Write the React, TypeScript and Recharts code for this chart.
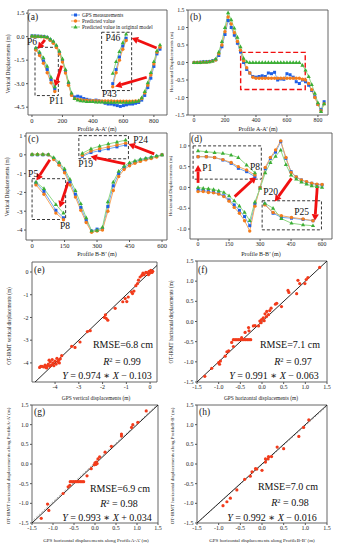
import React from "react";
import {
  ComposedChart,
  Line,
  ScatterChart,
  Scatter,
  XAxis,
  YAxis,
  ReferenceArea,
  ReferenceLine,
  ReferenceDot,
  Customized
} from "recharts";

const FONT = "'Liberation Serif', 'DejaVu Serif', serif";
const FRAME = "#555";

// Profile A-A' stations (m)
const stationsA = [0, 20, 40, 60, 80, 100, 120, 140, 160, 180, 200, 220, 240, 260, 280, 300, 320, 340, 360, 380, 400, 420, 440, 460, 480, 500, 520, 540, 560, 580, 600, 620, 640, 660, 680, 700, 720, 740, 760, 780, 800, 820, 840];
const vertGpsA = [0.05, 0.04, 0.03, 0.02, 0.0, -0.05, -0.2, -0.36, -0.62, -1.02, -1.52, -2.2, -3.0, -3.7, -3.85, -3.8, -3.85, -3.95, -4.0, -4.05, -4.1, -4.05, -4.1, -4.15, -4.25, -4.3, -4.3, -4.35, -4.4, -4.45, -4.4, -4.35, -4.3, -4.3, -4.25, -4.2, -4.05, -3.75, -3.25, -2.65, -1.9, -1.1, -0.8];
const vertPredA = [0.02, 0.01, 0.0, -0.01, -0.03, -0.08, -0.24, -0.42, -0.7, -1.1, -1.62, -2.32, -3.1, -3.75, -3.95, -4.0, -4.02, -4.05, -4.05, -4.08, -4.08, -4.08, -4.1, -4.1, -4.1, -4.1, -4.1, -4.12, -4.12, -4.12, -4.12, -4.12, -4.12, -4.12, -4.1, -4.1, -3.95, -3.6, -3.1, -2.45, -1.75, -1.0, -0.68];
const vertOrigA = [0.04, 0.03, 0.02, 0.01, 0.0, -0.03, -0.15, -0.3, -0.55, -0.92, -1.42, -2.1, -2.9, -3.6, -3.95, -4.05, -4.1, -4.12, -4.15, -4.15, -4.15, -4.18, -4.18, -4.18, -4.2, -4.2, -4.2, -4.2, -4.2, -4.2, -4.2, -4.2, -4.2, -4.18, -4.15, -4.1, -3.9, -3.5, -2.95, -2.3, -1.6, -0.9, -0.53];
const horGpsA = [0.0, 0.0, 0.01, 0.02, 0.02, 0.03, 0.05, 0.08, 0.2, 0.45, 0.8, 1.2, 1.0, 0.78, 0.55, 0.3, 0.0, -0.2, -0.3, -0.4, -0.42, -0.4, -0.38, -0.4, -0.3, -0.32, -0.28, -0.5, -0.47, -0.48, -0.32, -0.35, -0.42, -0.55, -0.6, -0.5, -0.55, -0.65, -0.8, -0.98, -1.2, -1.35, -1.12];
const horPredA = [0.0, 0.0, 0.0, 0.01, 0.01, 0.02, 0.04, 0.07, 0.25, 0.5, 0.88, 1.3, 1.1, 0.85, 0.6, 0.35, 0.05, -0.15, -0.3, -0.42, -0.45, -0.45, -0.45, -0.45, -0.45, -0.45, -0.45, -0.45, -0.45, -0.45, -0.45, -0.45, -0.45, -0.45, -0.45, -0.48, -0.5, -0.6, -0.78, -1.0, -1.2, -1.38, -1.18];
const horOrigA = [0.0, 0.0, 0.0, 0.01, 0.01, 0.02, 0.04, 0.1, 0.3, 0.6, 1.0, 1.42, 1.22, 0.98, 0.72, 0.45, 0.12, 0.02, 0.0, 0.0, 0.0, 0.0, 0.0, 0.0, 0.0, 0.0, 0.0, 0.0, 0.0, 0.0, 0.0, 0.0, 0.0, 0.0, 0.0, -0.08, -0.22, -0.4, -0.63, -0.88, -1.15, -1.4, -1.18];

// Profile B-B' stations (m)
const stationsB = [0, 25, 50, 75, 100, 125, 150, 175, 200, 225, 250, 275, 300, 325, 350, 375, 400, 425, 450, 475, 500, 525, 550, 575, 600];
const vertGpsB = [0.0, 0.0, 0.0, 0.0, -0.2, -0.48, -0.85, -1.45, -2.1, -2.8, -3.5, -4.05, -3.95, -3.95, -2.75, -1.65, -1.0, -0.68, -0.5, -0.38, -0.28, -0.22, -0.15, -0.08, 0.0];
const vertPredB = [0.02, 0.02, 0.02, 0.0, -0.25, -0.55, -0.95, -1.6, -2.25, -2.95, -3.6, -4.12, -4.05, -4.0, -3.0, -1.9, -1.15, -0.78, -0.58, -0.45, -0.35, -0.27, -0.2, -0.12, 0.0];
const vertOrigB = [0.03, 0.03, 0.03, 0.02, -0.15, -0.4, -0.75, -1.3, -1.9, -2.6, -3.35, -4.05, -4.02, -3.85, -2.5, -1.45, -0.88, -0.6, -0.42, -0.32, -0.24, -0.18, -0.12, -0.06, 0.0];
const horGpsB = [-0.05, -0.07, -0.1, -0.12, -0.15, -0.2, -0.3, -0.42, -0.55, -0.7, -0.92, -0.4, 0.0, 0.45, 0.7, 0.85, 1.1, 0.7, 0.38, 0.25, 0.18, 0.13, 0.1, 0.07, 0.06];
const horPredB = [-0.1, -0.1, -0.12, -0.13, -0.16, -0.22, -0.33, -0.48, -0.62, -0.8, -1.05, -0.45, 0.0, 0.48, 0.72, 0.9, 1.12, 0.72, 0.36, 0.25, 0.18, 0.14, 0.1, 0.08, 0.07];
const horOrigB = [0.0, -0.02, -0.03, -0.05, -0.08, -0.12, -0.2, -0.32, -0.45, -0.6, -0.8, -0.35, -0.02, 0.35, 0.6, 0.75, 0.9, 0.55, 0.3, 0.2, 0.13, 0.08, 0.04, 0.02, 0.0];

// zoomed insets (stations as plotted inside the dashed boxes)
const insetA1x = [25, 50, 75, 100, 125, 150];
const insetA1 = { gps: [-0.8, -1.1, -1.55, -2.1, -2.75, -3.35], pred: [-0.85, -1.2, -1.7, -2.3, -2.95, -3.5], orig: [-0.72, -0.98, -1.35, -1.9, -2.6, -3.2] };
const insetA2x = [530, 552, 574, 596, 618];
const insetA2 = { gps: [-3.0, -2.1, -1.3, -0.6, -0.1], pred: [-3.2, -2.3, -1.5, -0.8, -0.25], orig: [-2.35, -1.6, -0.95, -0.4, 0.17] };
const insetC1x = [18, 55, 110, 145];
const insetC1 = { gps: [-1.5, -1.95, -2.95, -3.35], pred: [-1.6, -2.1, -3.1, -3.45], orig: [-1.45, -1.8, -2.65, -3.1] };
const insetC2x = [232, 272, 312, 352, 392, 432];
const insetC2 = { gps: [-0.08, 0.12, 0.22, 0.32, 0.42, 0.52], pred: [-0.02, 0.2, 0.32, 0.42, 0.52, 0.62], orig: [0.08, 0.32, 0.46, 0.58, 0.68, 0.78] };
const insetD1x = [0, 40, 80, 120, 160, 195, 235, 275];
const insetD1 = { gps: [0.74, 0.74, 0.72, 0.66, 0.58, 0.46, 0.38, 0.26], pred: [0.74, 0.74, 0.72, 0.67, 0.6, 0.5, 0.42, 0.3], orig: [0.88, 0.86, 0.84, 0.82, 0.78, 0.72, 0.54, 0.35] };
const insetD2x = [323, 363, 403, 452, 508, 556];
const insetD2 = { gps: [-0.4, -0.62, -0.72, -0.74, -0.77, -0.8], pred: [-0.42, -0.6, -0.68, -0.72, -0.76, -0.8], orig: [-0.38, -0.5, -0.75, -0.86, -0.9, -0.92] };

// GPS vs OT-IRMT pairs
const scatterE: [number, number][] = [
  [-4.65, -4.2], [-4.6, -4.15], [-4.55, -4.15], [-4.48, -4.18], [-4.42, -4.1], [-4.38, -4.2], [-4.32, -4.12], [-4.28, -4.05], [-4.22, -4.15], [-4.2, -3.95], [-4.15, -4.08], [-4.12, -3.85], [-4.08, -4.0], [-4.05, -4.12], [-4.0, -3.92], [-3.95, -4.05], [-3.92, -3.8], [-3.88, -3.95], [-3.85, -3.88], [-3.82, -4.0], [-3.78, -3.82], [-3.72, -3.68], [-4.25, -3.88], [-4.35, -4.22],
  [-3.3, -3.27], [-3.16, -3.32], [-2.95, -3.08], [-2.64, -2.62], [-2.52, -2.58], [-1.88, -1.88], [-1.85, -2.04], [-1.78, -2.12], [-1.92, -2.0], [-1.47, -1.6], [-1.15, -1.31], [-1.05, -1.17], [-0.92, -1.1], [-0.98, -1.3], [-0.74, -0.95], [-0.68, -0.84], [-0.78, -0.88],
  [-0.6, -0.6], [-0.53, -0.51], [-0.49, -0.36], [-0.42, -0.22], [-0.35, -0.15], [-0.3, -0.05], [-0.25, -0.12], [-0.18, -0.02], [-0.14, -0.03], [-0.07, -0.12], [-0.04, 0.03], [0.03, 0.07], [0.08, -0.02], [0.11, 0.03], [-0.02, -0.05], [0.05, 0.0]
];
const scatterF: [number, number][] = [
  [1.33, 1.34], [1.06, 1.09], [1.02, 1.04], [0.83, 1.02], [0.87, 0.94], [0.99, 0.94], [0.8, 0.69], [0.6, 0.77], [0.62, 0.72], [0.45, 0.37], [0.34, 0.45], [0.31, 0.43], [0.21, 0.33], [0.18, 0.27], [0.11, 0.25], [0.07, 0.19], [0.15, 0.17], [0.03, 0.09], [-0.01, 0.05], [-0.05, 0.01], [-0.02, -0.03], [0.05, 0.02], [0.1, 0.12], [-0.08, -0.11], [-0.16, -0.1], [-0.2, -0.11], [-0.31, -0.15], [-0.3, -0.23], [-0.39, -0.27],
  [-0.66, -0.45], [-0.62, -0.45], [-0.58, -0.45], [-0.54, -0.45], [-0.5, -0.45], [-0.46, -0.45], [-0.42, -0.45], [-0.38, -0.45], [-0.34, -0.45], [-0.3, -0.45], [-0.26, -0.45],
  [-0.47, -0.4], [-0.7, -0.52], [-0.66, -0.62], [-0.77, -0.73], [-0.81, -0.75], [-0.85, -0.86], [-0.96, -0.98], [-1.0, -1.02], [-0.98, -1.06], [-1.16, -1.16], [-1.32, -1.36]
];
const scatterG: [number, number][] = [
  [1.22, 1.35], [1.02, 1.06], [0.9, 1.0], [0.87, 0.93], [0.63, 0.76], [0.63, 0.71], [0.39, 0.45], [0.24, 0.3], [0.11, 0.18], [0.07, 0.13], [0.03, 0.05], [0.0, 0.03], [0.02, -0.01], [-0.02, -0.02], [0.05, 0.01], [-0.09, -0.12], [-0.19, -0.3],
  [-0.59, -0.45], [-0.55, -0.45], [-0.51, -0.45], [-0.47, -0.45], [-0.43, -0.45], [-0.39, -0.45], [-0.35, -0.45], [-0.31, -0.45], [-0.27, -0.45],
  [-0.6, -0.54], [-0.64, -0.58], [-0.76, -0.75], [-1.13, -1.02], [-1.1, -1.18], [-1.28, -1.38]
];
const scatterH: [number, number][] = [
  [1.08, 1.12], [0.96, 0.93], [0.85, 0.7], [0.5, 0.39], [0.35, 0.43], [0.22, 0.19], [0.15, 0.19], [0.14, 0.13], [0.08, 0.13], [0.08, 0.05], [0.0, -0.16], [-0.12, -0.13], [-0.15, -0.12], [-0.23, -0.2], [-0.27, -0.31], [-0.4, -0.39], [-0.58, -0.66], [-0.73, -0.87], [-0.81, -0.96], [-0.9, -1.06]
];

const rmseCm = [6.8, 7.1, 6.9, 7.0];
const rSquared = [0.99, 0.97, 0.98, 0.98];
const fitSlope = [0.974, 0.991, 0.993, 0.992];
const fitIntercept = [-0.103, -0.063, 0.034, -0.016];

const SERIES = [
  { key: "gps", name: "GPS measurements", line: "#6ea8f2", mark: "#1e5fe6" },
  { key: "pred", name: "Predicted value", line: "#f6a862", mark: "#f47c1c" },
  { key: "orig", name: "Predicted value in original model", line: "#8fd884", mark: "#3cae36" }
];

type Trio = { gps: number[]; pred: number[]; orig: number[] };

const rows = (xs: number[], ys: number[]) => xs.map((x, i) => ({ x, y: ys[i] }));

function markerShape(kind: string, color: string, cx: number, cy: number, key?: any) {
  if (kind === "gps") return <rect key={key} x={cx - 1.5} y={cy - 1.5} width={3} height={3} fill={color} />;
  if (kind === "pred") return <circle key={key} cx={cx} cy={cy} r={1.7} fill={color} />;
  return <polygon key={key} points={`${cx},${cy - 2.3} ${cx - 2.1},${cy + 1.4} ${cx + 2.1},${cy + 1.4}`} fill={color} />;
}

const dotFor = (kind: string, color: string) => (p: any) => {
  if (p.cx == null || p.cy == null) return <g key={p.index} />;
  return markerShape(kind, color, p.cx, p.cy, p.index);
};

const Arrow = (p: any) => {
  const { x1, y1, x2, y2 } = p;
  const dx = x2 - x1;
  const dy = y2 - y1;
  const len = Math.hypot(dx, dy) || 1;
  const ux = dx / len;
  const uy = dy / len;
  const hl = 6.5;
  const hw = 3.6;
  const bx = x2 - ux * hl;
  const by = y2 - uy * hl;
  return (
    <g>
      <line x1={x1} y1={y1} x2={bx} y2={by} stroke="#f01010" strokeWidth={2.8} />
      <polygon points={`${x2},${y2} ${bx - uy * hw},${by + ux * hw} ${bx + uy * hw},${by - ux * hw}`} fill="#f01010" />
    </g>
  );
};

const tickStyle = (size: number) => ({ fontSize: size, fill: "#222", fontFamily: FONT });

type Box = { x1: number; x2: number; y1: number; y2: number; red?: boolean };
type Tag = { x: number; y: number; text: string };

function ProfilePanel(p: {
  left: number; top: number; width: number; height: number; mt: number; mr: number;
  yw: number; xh: number; fs: number; digits: number;
  xDomain: [number, number]; yDomain: [number, number]; xTicks: number[]; yTicks: number[];
  xs: number[]; main: Trio; insets: { xs: number[]; t: Trio }[];
  boxes: Box[]; arrows: number[][]; tags: Tag[];
}) {
  const sets = [{ xs: p.xs, t: p.main }, ...p.insets];
  return (
    <div style={{ position: "absolute", left: p.left, top: p.top }}>
      <ComposedChart width={p.width} height={p.height} margin={{ top: p.mt, right: p.mr, bottom: 0, left: 0 }}>
        <XAxis type="number" dataKey="x" domain={p.xDomain} ticks={p.xTicks} interval={0} allowDataOverflow height={p.xh}
          tick={tickStyle(p.fs)} tickSize={2} tickMargin={1} axisLine={false} tickLine={{ stroke: FRAME }} />
        <YAxis type="number" dataKey="y" domain={p.yDomain} ticks={p.yTicks} interval={0} allowDataOverflow width={p.yw}
          tick={tickStyle(p.fs)} tickSize={2} tickMargin={1.5} axisLine={false} tickLine={{ stroke: FRAME }}
          tickFormatter={(v: number) => v.toFixed(p.digits)} />
        {p.boxes.map((b, i) => (
          <ReferenceArea key={"box" + i} x1={b.x1} x2={b.x2} y1={b.y1} y2={b.y2} ifOverflow="visible" fill="none"
            stroke={b.red ? "#f01010" : "#222"} strokeWidth={b.red ? 1.4 : 0.9} strokeDasharray={b.red ? "5 2.5" : "3 2"} />
        ))}
        {sets.map((s, si) =>
          SERIES.map((c) => (
            <Line key={si + c.key} data={rows(s.xs, (s.t as any)[c.key])} dataKey="y" type="linear" stroke={c.line}
              strokeWidth={1} dot={dotFor(c.key, c.mark)} activeDot={false} isAnimationActive={false} legendType="none" />
          ))
        )}
        {p.arrows.map((a, i) => (
          <ReferenceLine key={"ar" + i} segment={[{ x: a[0], y: a[1] }, { x: a[2], y: a[3] }]} ifOverflow="visible" shape={Arrow} />
        ))}
        {p.tags.map((t, i) => (
          <ReferenceDot key={"tg" + i} x={t.x} y={t.y} r={0} fill="none" stroke="none" ifOverflow="visible"
            label={{ value: t.text, position: "center", fontSize: 9.5, fill: "#111", fontFamily: FONT }} />
        ))}
        <ReferenceArea x1={p.xDomain[0]} x2={p.xDomain[1]} y1={p.yDomain[0]} y2={p.yDomain[1]} fill="none" stroke={FRAME} strokeWidth={0.9} />
      </ComposedChart>
    </div>
  );
}

function ScatterPanel(p: {
  left: number; top: number; width: number; height: number; mt: number; mr: number; yw: number; xh: number;
  xDomain: [number, number]; yDomain: [number, number]; xTicks: number[]; yTicks: number[]; digits: number;
  pts: [number, number][]; fit: number; dashedFit: boolean;
}) {
  const lo = Math.min(p.xDomain[0], p.yDomain[0]) - 1;
  const hi = Math.max(p.xDomain[1], p.yDomain[1]) + 1;
  const a = fitSlope[p.fit];
  const b = fitIntercept[p.fit];
  return (
    <div style={{ position: "absolute", left: p.left, top: p.top }}>
      <ScatterChart width={p.width} height={p.height} margin={{ top: p.mt, right: p.mr, bottom: 0, left: 0 }}>
        <XAxis type="number" dataKey="x" domain={p.xDomain} ticks={p.xTicks} interval={0} allowDataOverflow height={p.xh}
          tick={tickStyle(6)} tickSize={2} tickMargin={1} axisLine={false} tickLine={{ stroke: FRAME }}
          tickFormatter={(v: number) => v.toFixed(p.digits)} />
        <YAxis type="number" dataKey="y" domain={p.yDomain} ticks={p.yTicks} interval={0} allowDataOverflow width={p.yw}
          tick={tickStyle(6)} tickSize={2} tickMargin={1.5} axisLine={false} tickLine={{ stroke: FRAME }}
          tickFormatter={(v: number) => v.toFixed(p.digits)} />
        {p.dashedFit && (
          <ReferenceLine segment={[{ x: lo, y: a * lo + b }, { x: hi, y: a * hi + b }]} ifOverflow="hidden"
            stroke="#9a9a9a" strokeWidth={0.8} strokeDasharray="2 1.5" />
        )}
        <ReferenceLine segment={[{ x: lo, y: lo }, { x: hi, y: hi }]} ifOverflow="hidden" stroke="#111" strokeWidth={0.9} />
        <Scatter data={p.pts.map(([x, y]) => ({ x, y }))} isAnimationActive={false}
          shape={(s: any) => <circle cx={s.cx} cy={s.cy} r={1.6} fill="#f23b1b" />} />
        <ReferenceArea x1={p.xDomain[0]} x2={p.xDomain[1]} y1={p.yDomain[0]} y2={p.yDomain[1]} fill="none" stroke={FRAME} strokeWidth={0.9} />
      </ScatterChart>
    </div>
  );
}

type Note = { t: string; x: number; y: number; s: number; rot?: boolean; anchor?: string };

const notes: Note[] = [
  { t: "(a)", x: 27.5, y: 19.5, s: 9.5, anchor: "start" },
  { t: "(b)", x: 190, y: 19.5, s: 9.5, anchor: "start" },
  { t: "(c)", x: 28, y: 141.5, s: 9.5, anchor: "start" },
  { t: "(d)", x: 191, y: 141.5, s: 9.5, anchor: "start" },
  { t: "(e)", x: 34, y: 272.5, s: 9.5, anchor: "start" },
  { t: "(f)", x: 198, y: 272.5, s: 9.5, anchor: "start" },
  { t: "(g)", x: 34, y: 415, s: 9.5, anchor: "start" },
  { t: "(h)", x: 199, y: 415, s: 9.5, anchor: "start" },
  { t: "Profile A-A\u2019 (m)", x: 97, y: 130.5, s: 6 },
  { t: "Profile A-A\u2019 (m)", x: 258, y: 130.5, s: 6 },
  { t: "Profile B-B\u2019 (m)", x: 97, y: 255.5, s: 6 },
  { t: "Profile B-B\u2019 (m)", x: 261, y: 255.5, s: 6 },
  { t: "GPS vertical displacements (m)", x: 96, y: 399.5, s: 5.4 },
  { t: "GPS horizontal displacements (m)", x: 261, y: 399.5, s: 5.4 },
  { t: "GPS horizontal displacements along ProfileA-A\u2019 (m)", x: 96, y: 542, s: 5 },
  { t: "GPS horizontal displacements along ProfileB-B\u2019 (m)", x: 262, y: 542, s: 5 },
  { t: "Vertical Displacements (m)", x: 10, y: 64, s: 5.4, rot: true },
  { t: "Horizontal Displacements (m)", x: 172.5, y: 62, s: 5, rot: true },
  { t: "Vertical Displacements (m)", x: 9, y: 187, s: 5.4, rot: true },
  { t: "Horizontal Displacements (m)", x: 172, y: 186, s: 5, rot: true },
  { t: "OT-IRMT vertical displacements (m)", x: 11, y: 326, s: 5.2, rot: true },
  { t: "OT-IRMT horizontal displacements (m)", x: 173, y: 322, s: 5.2, rot: true },
  { t: "OT-IRMT horizontal displacements along ProfileA-A\u2019 (m)", x: 10, y: 466, s: 5, rot: true },
  { t: "OT-IRMT horizontal displacements along ProfileB-B\u2019 (m)", x: 174, y: 466, s: 5, rot: true }
];

const statPos = [
  { rx: 123, ry: 348, qx: 122, qy: 365, ex: 107, ey: 378.5 },
  { rx: 290, ry: 348, qx: 293, qy: 365, ex: 274, ey: 378.5 },
  { rx: 120, ry: 491.5, qx: 119, qy: 507, ex: 107, ey: 521 },
  { rx: 288, ry: 490, qx: 290, qy: 506, ex: 272, ey: 521 }
];

function Overlay() {
  return (
    <svg width={337} height={550} style={{ position: "absolute", left: 0, top: 0, pointerEvents: "none" }} fontFamily={FONT}>
      {notes.map((n, i) => (
        <text key={i} x={n.x} y={n.y} fontSize={n.s} fill="#222" textAnchor={n.anchor || "middle"}
          transform={n.rot ? `rotate(-90 ${n.x} ${n.y})` : undefined}>{n.t}</text>
      ))}
      {SERIES.map((s, i) => (
        <g key={s.key}>
          <line x1={71} x2={80} y1={15 + i * 6} y2={15 + i * 6} stroke={s.line} strokeWidth={1} />
          {markerShape(s.key, s.mark, 75.5, 15 + i * 6)}
          <text x={82} y={16.8 + i * 6} fontSize={5.3} fill="#222">{s.name}</text>
        </g>
      ))}
      {statPos.map((sp, i) => (
        <g key={"st" + i} fill="#111">
          <text x={sp.rx} y={sp.ry} fontSize={10} textAnchor="middle">{`RMSE=${rmseCm[i].toFixed(1)} cm`}</text>
          <text x={sp.qx} y={sp.qy} fontSize={10} textAnchor="middle">
            <tspan fontStyle="italic">R</tspan>
            <tspan dy={-3.5} fontSize={6.5}>2</tspan>
            <tspan dy={3.5}>{` = ${rSquared[i].toFixed(2)}`}</tspan>
          </text>
          <text x={sp.ex} y={sp.ey} fontSize={10} textAnchor="middle">
            <tspan fontStyle="italic">Y</tspan>
            <tspan>{` = ${fitSlope[i].toFixed(3)} \u2217 `}</tspan>
            <tspan fontStyle="italic">X</tspan>
            <tspan>{` ${fitIntercept[i] < 0 ? "\u2212" : "+"} ${Math.abs(fitIntercept[i]).toFixed(3)}`}</tspan>
          </text>
        </g>
      ))}
    </svg>
  );
}

export default function App() {
  const hTicks = [-1.5, -1.0, -0.5, 0, 0.5, 1.0, 1.5];
  return (
    <div style={{ position: "absolute", left: 0, top: 0, width: 337, height: 550, background: "#fff", fontFamily: FONT }}>
      <ProfilePanel left={0} top={0} width={168} height={132} mt={10} mr={1} yw={28} xh={17} fs={6.5} digits={1}
        xDomain={[-26, 886]} yDomain={[-5.0, 1.7]} xTicks={[0, 200, 400, 600, 800]} yTicks={[1.5, 0, -1.5, -3, -4.5]}
        xs={stationsA} main={{ gps: vertGpsA, pred: vertPredA, orig: vertOrigA }}
        insets={[{ xs: insetA1x, t: insetA1 }, { xs: insetA2x, t: insetA2 }]}
        boxes={[{ x1: 20, x2: 173, y1: -3.76, y2: -0.68 }, { x1: 457, x2: 654, y1: -3.44, y2: 0.28 }]}
        arrows={[[85, -0.21, 37, -0.79], [195, -1.85, 151, -3.18], [818, -0.72, 654, -0.08], [753, -2.59, 545, -3.18]]}
        tags={[{ x: 0, y: -0.35, text: "P6" }, { x: 161, y: -4.1, text: "P11" }, { x: 531, y: -0.06, text: "P46" }, { x: 508, y: -3.66, text: "P43" }]} />
      <ProfilePanel left={168} top={0} width={169} height={132} mt={10} mr={9} yw={20} xh={17} fs={5.8} digits={1}
        xDomain={[-39, 865]} yDomain={[-1.5, 1.5]} xTicks={[0, 200, 400, 600, 800]} yTicks={hTicks}
        xs={stationsA} main={{ gps: horGpsA, pred: horPredA, orig: horOrigA }} insets={[]}
        boxes={[{ x1: 301, x2: 718, y1: -0.77, y2: 0.29, red: true }]} arrows={[]} tags={[]} />
      <ProfilePanel left={0} top={132} width={168} height={126} mt={1} mr={1} yw={26} xh={18} fs={6.5} digits={0}
        xDomain={[-28, 623]} yDomain={[-4.53, 1.16]} xTicks={[0, 150, 300, 450, 600]} yTicks={[1, 0, -1, -2, -3, -4]}
        xs={stationsB} main={{ gps: vertGpsB, pred: vertPredB, orig: vertOrigB }}
        insets={[{ xs: insetC1x, t: insetC1 }, { xs: insetC2x, t: insetC2 }]}
        boxes={[{ x1: 0, x2: 155, y1: -3.44, y2: -1.27 }, { x1: 216, x2: 445, y1: -0.21, y2: 1.02 }]}
        arrows={[[82, -0.26, 20, -1.36], [167, -1.44, 128, -2.8], [564, 0.05, 445, 0.58], [430, -0.48, 270, -0.09]]}
        tags={[{ x: 5, y: -1.02, text: "P5" }, { x: 152, y: -3.77, text: "P8" }, { x: 247, y: -0.49, text: "P19" }, { x: 501, y: 0.83, text: "P24" }]} />
      <ProfilePanel left={168} top={132} width={169} height={126} mt={1} mr={5} yw={22} xh={19} fs={5.8} digits={1}
        xDomain={[-39, 648]} yDomain={[-1.24, 1.31]} xTicks={[0, 150, 300, 450, 600]} yTicks={[1.0, 0.5, 0, -0.5, -1.0]}
        xs={stationsB} main={{ gps: horGpsB, pred: horPredB, orig: horOrigB }}
        insets={[{ xs: insetD1x, t: insetD1 }, { xs: insetD2x, t: insetD2 }]}
        boxes={[{ x1: -24, x2: 306, y1: 0.2, y2: 1.0 }, { x1: 310, x2: 597, y1: -1.02, y2: -0.32 }]}
        arrows={[[0, 0.11, 0, 0.54], [177, -0.22, 282, 0.26], [452, 0.22, 371, -0.34], [577, 0.03, 565, -0.8]]}
        tags={[{ x: 44, y: 0.48, text: "P1" }, { x: 276, y: 0.51, text: "P8" }, { x: 351, y: -0.1, text: "P20" }, { x: 501, y: -0.57, text: "P25" }]} />
      <ScatterPanel left={0} top={258} width={168} height={147} mt={4} mr={11} yw={32} xh={23}
        xDomain={[-4.97, 0.29]} yDomain={[-4.84, 0.44]} xTicks={[-4, -3, -2, -1, 0]} yTicks={[0, -1, -2, -3, -4]} digits={0}
        pts={scatterE} fit={0} dashedFit={false} />
      <ScatterPanel left={168} top={258} width={169} height={147} mt={3} mr={10} yw={29} xh={23}
        xDomain={[-1.5, 1.5]} yDomain={[-1.5, 1.5]} xTicks={hTicks} yTicks={hTicks} digits={1}
        pts={scatterF} fit={1} dashedFit={false} />
      <ScatterPanel left={0} top={403} width={168} height={147} mt={2} mr={10} yw={32} xh={27}
        xDomain={[-1.5, 1.5]} yDomain={[-1.5, 1.5]} xTicks={hTicks} yTicks={hTicks} digits={1}
        pts={scatterG} fit={2} dashedFit={true} />
      <ScatterPanel left={168} top={403} width={169} height={147} mt={2} mr={10} yw={29} xh={27}
        xDomain={[-1.5, 1.5]} yDomain={[-1.5, 1.5]} xTicks={hTicks} yTicks={hTicks} digits={1}
        pts={scatterH} fit={3} dashedFit={true} />
      <Overlay />
    </div>
  );
}
